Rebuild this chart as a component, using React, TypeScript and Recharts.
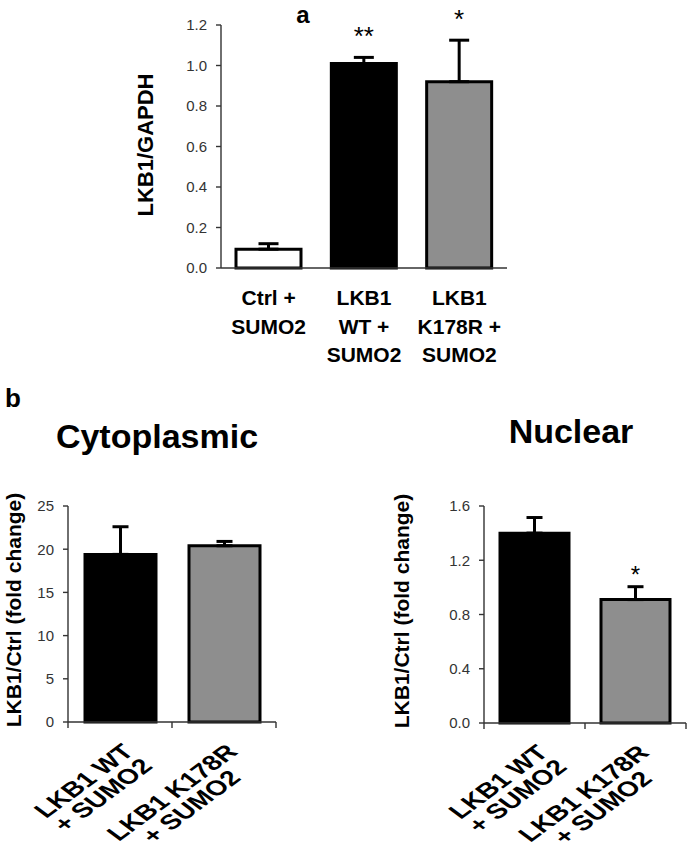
import { useLayoutEffect, useRef, useState } from 'react'
import { Bar, BarChart, Cell, ErrorBar, LabelList, XAxis, YAxis } from 'recharts'

const FONT = 'Liberation Sans, Arial, sans-serif'
const AXIS = '#333'
const GRAY = '#8e8e8e'

// panel a
const groupsA = ['Ctrl + SUMO2', 'LKB1 WT + SUMO2', 'LKB1 K178R + SUMO2']
const linesA = [['Ctrl +', 'SUMO2'], ['LKB1', 'WT +', 'SUMO2'], ['LKB1', 'K178R +', 'SUMO2']]
const valuesA = [0.093, 1.01, 0.92]
const errA = [0.027, 0.03, 0.205]
const sigA = ['', '**', '*']
const fillsA = ['#ffffff', '#000000', GRAY]
const ticksA = [0, 0.2, 0.4, 0.6, 0.8, 1.0, 1.2]

// panel b
const groupsB = ['LKB1 WT + SUMO2', 'LKB1 K178R + SUMO2']
const linesB = [['LKB1 WT', '+ SUMO2'], ['LKB1 K178R', '+ SUMO2']]
const fillsB = ['#000000', GRAY]
const cytoValues = [19.4, 20.4]
const cytoErr = [3.2, 0.5]
const cytoSig = ['', '']
const cytoTicks = [0, 5, 10, 15, 20, 25]
const nucValues = [1.4, 0.91]
const nucErr = [0.115, 0.095]
const nucSig = ['', '*']
const nucTicks = [0, 0.4, 0.8, 1.2, 1.6]

const build = (groups: string[], vals: number[], errs: number[], sig: string[]) =>
  groups.map((g, i) => ({ name: g, value: vals[i], err: errs[i], range: [0, errs[i]], sig: sig[i] }))

const dataA = build(groupsA, valuesA, errA, sigA)
const dataCyto = build(groupsB, cytoValues, cytoErr, cytoSig)
const dataNuc = build(groupsB, nucValues, nucErr, nucSig)

const yTick = { fill: AXIS, fontSize: 15, fontFamily: FONT }

function TickA(props: any) {
  const { x, y, payload } = props
  const lines = linesA[groupsA.indexOf(payload.value)] || []
  return (
    <text x={x} y={y} textAnchor="middle" fontSize={21} fontWeight="bold" fontFamily={FONT} fill="#000">
      {lines.map((l, i) => (
        <tspan key={i} x={x} dy={i === 0 ? 37 : 28.5}>
          {l}
        </tspan>
      ))}
    </text>
  )
}

function RotLabel({ a, b }: { a: string; b: string }) {
  const r1 = useRef<SVGTextElement>(null)
  const r2 = useRef<SVGTextElement>(null)
  const [w, setW] = useState<[number, number]>([0, 0])
  useLayoutEffect(() => {
    const w1 = r1.current ? r1.current.getComputedTextLength() : 0
    const w2 = r2.current ? r2.current.getComputedTextLength() : 0
    if (w1 !== w[0] || w2 !== w[1]) setW([w1, w2])
  })
  const W = Math.max(w[0], w[1])
  const style = { fontSize: 21, fontWeight: 'bold' as const, fontFamily: FONT }
  return (
    <g>
      <text ref={r1} x={-(W - w[0]) / 2} y={0} textAnchor="end" fill="#000" style={style}>
        {a}
      </text>
      <text ref={r2} x={-(W - w[1]) / 2} y={20} textAnchor="end" fill="#000" style={style}>
        {b}
      </text>
    </g>
  )
}

function TickB(props: any) {
  const { x, y, payload, band } = props
  const i = groupsB.indexOf(payload.value)
  const [l1, l2] = linesB[i] || ['', '']
  return (
    <g>
      <line x1={x - band / 2} y1={y} x2={x - band / 2} y2={y + 6} stroke={AXIS} strokeWidth={1.4} />
      {i === groupsB.length - 1 && (
        <line x1={x + band / 2} y1={y} x2={x + band / 2} y2={y + 6} stroke={AXIS} strokeWidth={1.4} />
      )}
      <g transform={`translate(${x + 15},${y + 31}) scale(1.35,1) rotate(-45)`}>
        <RotLabel a={l1} b={l2} />
      </g>
    </g>
  )
}

function Sig(props: any) {
  const { x, y, width, value, fontSize, lift } = props
  if (!value) return null
  return (
    <text x={x + width / 2} y={y - lift} textAnchor="middle" fontSize={fontSize} fontFamily={FONT} fill="#000">
      {value}
    </text>
  )
}

function PanelB({ data, ticks, max, fmt, left, w, margin, barSize, sigSize, sigLift }: any) {
  const plotW = w - margin.left - 40 - margin.right
  return (
    <div style={{ position: 'absolute', left, top: 380 }}>
      <BarChart width={w} height={469} data={data} margin={margin} barCategoryGap={0} style={{ overflow: 'visible' }}>
        <XAxis
          dataKey="name"
          interval={0}
          height={120}
          axisLine={{ stroke: AXIS, strokeWidth: 1.4 }}
          tickLine={false}
          tickSize={0}
          tickMargin={0}
          tick={<TickB band={plotW / data.length} />}
        />
        <YAxis
          width={40}
          domain={[0, max]}
          ticks={ticks}
          tickFormatter={fmt}
          axisLine={{ stroke: AXIS, strokeWidth: 1.4 }}
          tickLine={{ stroke: AXIS, strokeWidth: 1.4 }}
          tickSize={5}
          tickMargin={9}
          tick={yTick}
        />
        <Bar dataKey="value" stackId="s" barSize={barSize} stroke="#000" strokeWidth={3} isAnimationActive={false}>
          {data.map((_: any, i: number) => (
            <Cell key={i} fill={fillsB[i]} />
          ))}
          <ErrorBar dataKey="range" width={8} stroke="#000" strokeWidth={3} direction="y" />
        </Bar>
        <Bar dataKey="err" stackId="s" barSize={barSize} fill="transparent" isAnimationActive={false}>
          <LabelList dataKey="sig" content={<Sig fontSize={sigSize} lift={sigLift} />} />
        </Bar>
      </BarChart>
    </div>
  )
}

export default function App() {
  return (
    <div style={{ position: 'absolute', left: 0, top: 0, width: 689, height: 849, background: '#fff', fontFamily: FONT }}>
      <div style={{ position: 'absolute', left: 0, top: 0 }}>
        <BarChart width={689} height={380} data={dataA} margin={{ top: 25, right: 182, left: 161, bottom: 12 }}>
          <XAxis
            dataKey="name"
            interval={0}
            height={100}
            axisLine={{ stroke: AXIS, strokeWidth: 1.4 }}
            tickLine={false}
            tickSize={0}
            tickMargin={0}
            tick={<TickA />}
          />
          <YAxis
            width={60}
            domain={[0, 1.2]}
            ticks={ticksA}
            tickFormatter={(v: number) => v.toFixed(1)}
            axisLine={{ stroke: AXIS, strokeWidth: 1.4 }}
            tickLine={{ stroke: AXIS, strokeWidth: 1.4 }}
            tickSize={5}
            tickMargin={9}
            tick={yTick}
          />
          <Bar dataKey="value" stackId="s" barSize={65} stroke="#000" strokeWidth={3} isAnimationActive={false}>
            {dataA.map((_, i) => (
              <Cell key={i} fill={fillsA[i]} />
            ))}
            <ErrorBar dataKey="range" width={10} stroke="#000" strokeWidth={3} direction="y" />
          </Bar>
          <Bar dataKey="err" stackId="s" barSize={65} fill="transparent" isAnimationActive={false}>
            <LabelList dataKey="sig" content={<Sig fontSize={26} lift={12} />} />
          </Bar>
        </BarChart>
      </div>

      <PanelB
        data={dataCyto}
        ticks={cytoTicks}
        max={25}
        fmt={(v: number) => String(v)}
        left={0}
        w={300}
        margin={{ top: 126, right: 24, left: 28, bottom: 7 }}
        barSize={71}
        sigSize={24}
        sigLift={6}
      />
      <PanelB
        data={dataNuc}
        ticks={nucTicks}
        max={1.6}
        fmt={(v: number) => v.toFixed(1)}
        left={380}
        w={309}
        margin={{ top: 126, right: 3, left: 64, bottom: 6 }}
        barSize={69}
        sigSize={24}
        sigLift={4}
      />

      <svg width={689} height={849} style={{ position: 'absolute', left: 0, top: 0, pointerEvents: 'none' }}>
        <g fontFamily={FONT} fontWeight="bold" fill="#000">
          <text x={303} y={23} textAnchor="middle" fontSize={24}>a</text>
          <text x={13} y={407} textAnchor="middle" fontSize={26}>b</text>
          <text x={157} y={448} textAnchor="middle" fontSize={34}>Cytoplasmic</text>
          <text x={571} y={443} textAnchor="middle" fontSize={34}>Nuclear</text>
          <text transform="translate(153,145) rotate(-90)" textAnchor="middle" fontSize={22}>LKB1/GAPDH</text>
          <text transform="translate(21,610) rotate(-90)" textAnchor="middle" fontSize={21}>LKB1/Ctrl (fold change)</text>
          <text transform="translate(409,611) rotate(-90)" textAnchor="middle" fontSize={21}>LKB1/Ctrl (fold change)</text>
        </g>
      </svg>
    </div>
  )
}
